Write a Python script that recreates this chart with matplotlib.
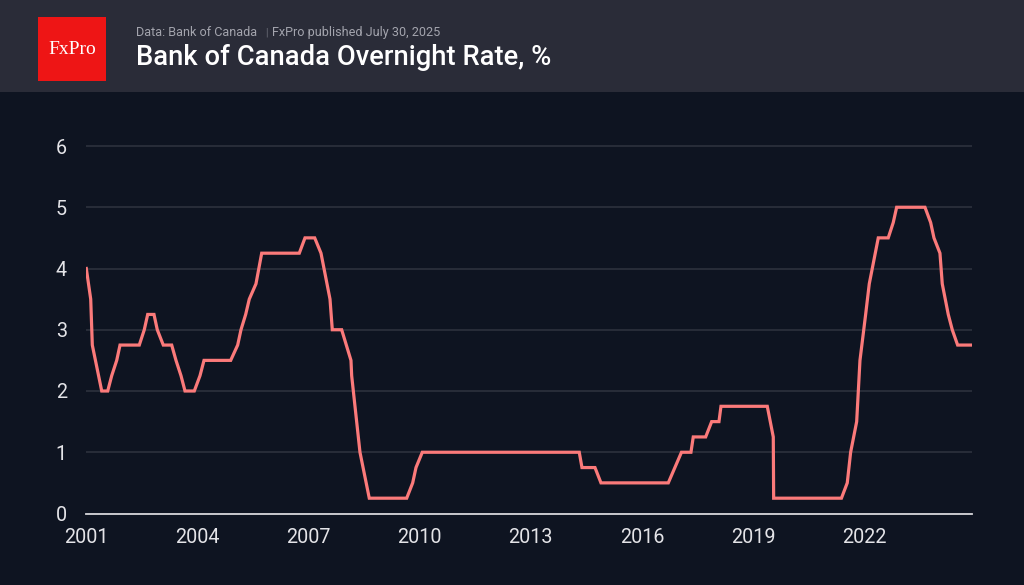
import matplotlib
matplotlib.use("Agg")
import matplotlib.pyplot as plt
from matplotlib.patches import Rectangle

# ---- data (vertices of the line; x in years on the chart's axis) ----
years = [2001.000, 2001.119, 2001.162, 2001.416, 2001.578, 2001.686, 2001.821, 2001.910,
         2002.430, 2002.565, 2002.657, 2002.827, 2002.916, 2003.078, 2003.305, 2003.421,
         2003.556, 2003.664, 2003.915, 2004.069, 2004.177, 2004.897, 2005.086, 2005.175,
         2005.302, 2005.399, 2005.580, 2005.734, 2006.749, 2006.903, 2007.165, 2007.335,
         2007.578, 2007.640, 2007.893, 2008.144, 2008.163, 2008.387, 2008.638, 2009.648,
         2009.810, 2009.899, 2010.069, 2014.306, 2014.379, 2014.730, 2014.892, 2016.709,
         2017.065, 2017.321, 2017.383, 2017.718, 2017.880, 2018.077, 2018.131, 2019.381,
         2019.543, 2019.553, 2021.383, 2021.540, 2021.631, 2021.794, 2021.883, 2022.036,
         2022.134, 2022.296, 2022.377, 2022.646, 2022.781, 2022.873, 2023.637, 2023.791,
         2023.880, 2024.042, 2024.104, 2024.266, 2024.374, 2024.519, 2024.905]
rates = [4.0, 3.5, 2.75, 2.0, 2.0, 2.25, 2.5, 2.75,
         2.75, 3.0, 3.25, 3.25, 3.0, 2.75, 2.75, 2.5,
         2.25, 2.0, 2.0, 2.25, 2.5, 2.5, 2.75, 3.0,
         3.25, 3.5, 3.75, 4.25, 4.25, 4.5, 4.5, 4.25,
         3.5, 3.0, 3.0, 2.5, 2.25, 1.0, 0.25, 0.25,
         0.5, 0.75, 1.0, 1.0, 0.75, 0.75, 0.5, 0.5,
         1.0, 1.0, 1.25, 1.25, 1.5, 1.5, 1.75, 1.75,
         1.25, 0.25, 0.25, 0.5, 1.0, 1.5, 2.5, 3.25,
         3.75, 4.25, 4.5, 4.5, 4.75, 5.0, 5.0, 4.75,
         4.5, 4.25, 3.75, 3.25, 3.0, 2.75, 2.75]
x_ticks = [2001, 2004, 2007, 2010, 2013, 2016, 2019, 2022]
x_labels = ["2001", "2004", "2007", "2010", "2013", "2016", "2019", "2022"]
y_ticks = [0, 1, 2, 3, 4, 5, 6]

title = "Bank of Canada Overnight Rate, %"
source_left = "Data: Bank of Canada"
source_right = "FxPro published July 30, 2025"

# ---- style ----
BG = "#0e1421"
HEADER = "#2a2c38"
LINE = "#fb7a7a"
GRID = "#2a2f3b"
TXT = "#e4e4e8"

plt.rcParams["font.family"] = ["Roboto", "DejaVu Sans"]

W, H = 1024, 585
fig = plt.figure(figsize=(W / 100, H / 100), dpi=100, facecolor=BG)

# header band
fig.patches.append(Rectangle((0, 1 - 92 / H), 1, 92 / H, transform=fig.transFigure,
                             facecolor=HEADER, edgecolor="none", zorder=0))
# logo
fig.patches.append(Rectangle((38 / W, 1 - 81 / H), 68 / W, 63.5 / H, transform=fig.transFigure,
                             facecolor="#ee1515", edgecolor="none", zorder=1))
fig.text(72 / W, 1 - 50 / H, "FxPro", family=["Liberation Serif", "DejaVu Serif"],
         fontsize=14, color="white", ha="center", va="center", zorder=2)

fig.text(136.5 / W, 1 - 65 / H, title, fontsize=19.7, color="white",
         fontweight="medium", ha="left", va="baseline")

t1 = fig.text(136.5 / W, 1 - 36 / H, source_left, fontsize=9.1, color="#a3a4ad",
              ha="left", va="baseline")
fig.canvas.draw()
r = fig.canvas.get_renderer()
bb = t1.get_window_extent(r)
x_bar = bb.x1 + 7
fig.text(x_bar / W, 1 - 35.5 / H, "|", fontsize=7, color="#6c6e78", ha="left", va="baseline")
fig.text((x_bar + 7) / W, 1 - 36 / H, source_right, fontsize=9.1, color="#a3a4ad",
         ha="left", va="baseline")

# axes
left, right = 86.3 / W, 972.3 / W
y0_px, y6_px = 513.5, 146.0
ymax = 6.3
unit = (y0_px - y6_px) / 6
top_px = y0_px - ymax * unit
ax = fig.add_axes([left, 1 - y0_px / H, right - left, (y0_px - top_px) / H])
ax.set_facecolor(BG)
ax.plot(years, rates, color=LINE, lw=2.3, solid_joinstyle="miter", zorder=3)
ax.set_xlim(2001, 2024.915)
ax.set_ylim(0, ymax)
ax.set_yticks(y_ticks)
ax.set_yticklabels([str(v) for v in y_ticks])
ax.set_xticks(x_ticks)
ax.set_xticklabels(x_labels)
ax.grid(axis="y", color=GRID, lw=1.3, zorder=1)
for s in ["top", "right", "left"]:
    ax.spines[s].set_visible(False)
ax.spines["bottom"].set_color("#d6d6da")
ax.spines["bottom"].set_linewidth(1.3)
ax.spines["bottom"].set_zorder(4)
ax.tick_params(axis="both", length=0, colors=TXT, labelsize=14.2)
ax.tick_params(axis="y", pad=14)
ax.tick_params(axis="x", pad=10.5)

fig.savefig("out.png", dpi=100, facecolor=BG)
